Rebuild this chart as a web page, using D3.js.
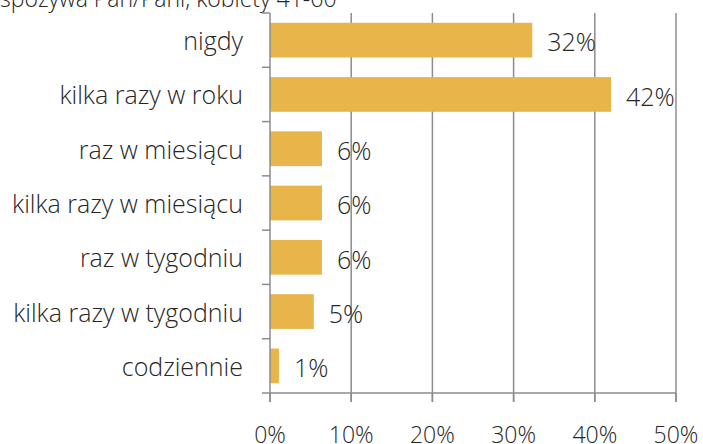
<!DOCTYPE html>
<html><head><meta charset="utf-8">
<script src="https://cdn.jsdelivr.net/npm/d3@7"></script>
<style>body{margin:0;background:#fff}text{font-family:"Open Sans",sans-serif;font-weight:300;fill:#262626}</style>
</head><body>
<svg id="c" width="703" height="444"></svg>
<script>
const categories = ["nigdy","kilka razy w roku","raz w miesiącu","kilka razy w miesiącu","raz w tygodniu","kilka razy w tygodniu","codziennie"];
const values = [32.3, 42.0, 6.4, 6.4, 6.4, 5.4, 1.1];
const labels = ["32%","42%","6%","6%","6%","5%","1%"];
const xTicks = [0,10,20,30,40,50];
const title = "spożywa Pan/Pani, kobiety 41-60";

(function(){
const svg = d3.select("#c");
const mLeft = 270, mRight = 676, mTop = 13, mBottom = 393;
const x = d3.scaleLinear().domain([0,50]).range([mLeft,mRight]);
const y = d3.scaleBand().domain(categories).range([mTop,mBottom]).paddingInner(0.36).paddingOuter(0.18);

svg.append("text").attr("x",0).attr("y",7).attr("font-size",23).text(title);

svg.append("g").selectAll("line").data(xTicks.slice(1)).join("line")
  .attr("x1",d=>x(d)).attr("x2",d=>x(d)).attr("y1",mTop).attr("y2",mBottom+9)
  .attr("stroke","#8c8c8c").attr("stroke-width",1.5);

svg.append("g").selectAll("rect").data(values).join("rect")
  .attr("x",x(0)).attr("y",(d,i)=>y(categories[i])).attr("width",d=>x(d)-x(0)).attr("height",y.bandwidth())
  .attr("fill","#E8B54B");

svg.append("g").selectAll("text").data(values).join("text")
  .attr("x",d=>x(d)+15).attr("y",(d,i)=>y(categories[i])+y.bandwidth()/2).attr("dy","0.45em")
  .attr("font-size",25).text((d,i)=>labels[i]);

const step = (mBottom-mTop)/categories.length;
const ya = svg.append("g");
ya.append("line").attr("x1",mLeft).attr("x2",mLeft).attr("y1",mTop).attr("y2",mBottom+9).attr("stroke","#8c8c8c").attr("stroke-width",1.5);
ya.selectAll("line.t").data(d3.range(categories.length)).join("line").attr("class","t")
  .attr("x1",mLeft-8).attr("x2",mLeft).attr("y1",i=>mTop+i*step).attr("y2",i=>mTop+i*step)
  .attr("stroke","#8c8c8c").attr("stroke-width",1.5);
ya.selectAll("text").data(categories).join("text")
  .attr("x",243).attr("y",d=>y(d)+y.bandwidth()/2).attr("dy","0.4em").attr("text-anchor","end")
  .attr("font-size",25).text(d=>d);

const xa = svg.append("g");
xa.append("line").attr("x1",mLeft-8).attr("x2",mRight).attr("y1",mBottom).attr("y2",mBottom).attr("stroke","#8c8c8c").attr("stroke-width",1.5);
xa.selectAll("line.t").data(xTicks).join("line").attr("class","t")
  .attr("x1",d=>x(d)).attr("x2",d=>x(d)).attr("y1",mBottom).attr("y2",mBottom+9)
  .attr("stroke","#8c8c8c").attr("stroke-width",1.5);
xa.selectAll("text").data(xTicks).join("text")
  .attr("x",d=>x(d)).attr("y",443).attr("text-anchor","middle")
  .attr("font-size",23).text(d=>d+"%");
})();
</script>
</body></html>
